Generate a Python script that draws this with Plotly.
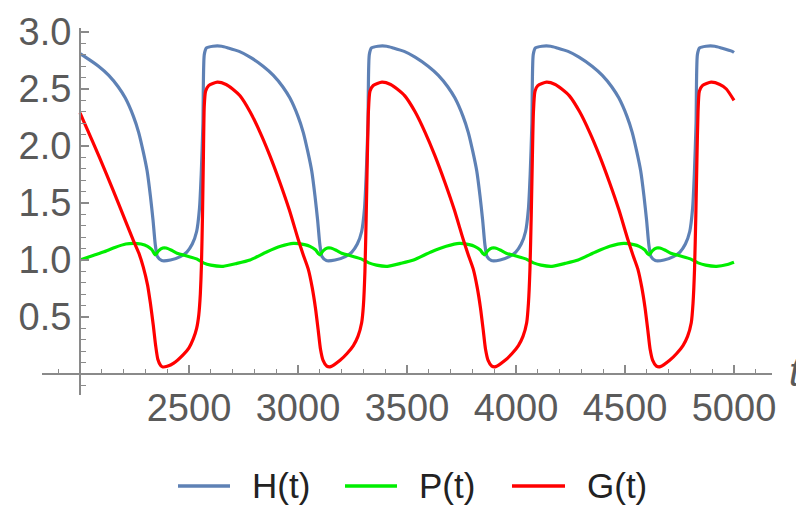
import plotly.graph_objects as go

# ---- data ----
H_t = [2000, 2025, 2085, 2132, 2175, 2208, 2245, 2269, 2290, 2308, 2323, 2335, 2345, 2355, 2375, 2415,
       2460, 2490, 2515, 2535, 2548, 2556, 2564, 2570, 2580, 2610, 2650, 2680, 2730, 2780, 2840, 2887,
       2930, 2963, 3000, 3024, 3045, 3063, 3078, 3090, 3100, 3110, 3130, 3170,
       3217, 3247, 3272, 3292, 3305, 3313, 3321, 3327, 3337, 3367, 3407, 3437, 3487, 3537, 3597, 3644,
       3687, 3720, 3757, 3781, 3802, 3820, 3835, 3847, 3857, 3867, 3887, 3927,
       3969, 3999, 4024, 4044, 4057, 4065, 4073, 4079, 4089, 4119, 4159, 4189, 4239, 4289, 4349, 4396,
       4439, 4472, 4509, 4533, 4554, 4572, 4587, 4599, 4609, 4619, 4639, 4679,
       4722, 4752, 4777, 4797, 4810, 4818, 4826, 4832, 4842, 4872, 4912, 4942, 4992, 5000]
H_y = [2.81, 2.78, 2.70, 2.62, 2.52, 2.42, 2.26, 2.12, 1.95, 1.78, 1.56, 1.35, 1.14, 1.03, 0.995, 1.00,
       1.03, 1.07, 1.14, 1.25, 1.45, 1.75, 2.2, 2.80, 2.86, 2.875, 2.875, 2.86, 2.83, 2.78, 2.70, 2.62,
       2.52, 2.42, 2.26, 2.12, 1.95, 1.78, 1.56, 1.35, 1.14, 1.03, 0.995, 1.00,
       1.03, 1.07, 1.14, 1.25, 1.45, 1.75, 2.2, 2.80, 2.86, 2.875, 2.875, 2.86, 2.83, 2.78, 2.70, 2.62,
       2.52, 2.42, 2.26, 2.12, 1.95, 1.78, 1.56, 1.35, 1.14, 1.03, 0.995, 1.00,
       1.03, 1.07, 1.14, 1.25, 1.45, 1.75, 2.2, 2.80, 2.86, 2.875, 2.875, 2.86, 2.83, 2.78, 2.70, 2.62,
       2.52, 2.42, 2.26, 2.12, 1.95, 1.78, 1.56, 1.35, 1.14, 1.03, 0.995, 1.00,
       1.03, 1.07, 1.14, 1.25, 1.45, 1.75, 2.2, 2.80, 2.86, 2.875, 2.875, 2.86, 2.83, 2.82]

P_t = [2000, 2060, 2107, 2160, 2210, 2245, 2280, 2310, 2330, 2345, 2360, 2380, 2395, 2420, 2445, 2490,
       2535, 2566, 2600, 2657, 2720, 2780, 2856, 2920, 2979, 3030, 3055, 3080, 3100, 3115, 3135, 3150,
       3175, 3200, 3245, 3290, 3325, 3360, 3410, 3470, 3530, 3610, 3680, 3740, 3785, 3810, 3835, 3855,
       3870, 3890, 3905, 3930, 3955, 4000, 4045, 4080, 4115, 4165, 4225, 4285, 4365, 4430, 4495, 4540,
       4565, 4590, 4610, 4625, 4645, 4660, 4685, 4710, 4755, 4800, 4835, 4870, 4920, 4970, 5000]
P_y = [1.00, 1.04, 1.07, 1.11, 1.14, 1.146, 1.14, 1.12, 1.09, 1.045, 1.08, 1.105, 1.105, 1.085, 1.06, 1.035,
       1.01, 0.975, 0.955, 0.945, 0.97, 1.00, 1.07, 1.12, 1.146, 1.135, 1.12, 1.09, 1.045, 1.08, 1.105, 1.105,
       1.085, 1.06, 1.035, 1.01, 0.975, 0.955, 0.945, 0.97, 1.00, 1.07, 1.12, 1.146, 1.135, 1.12, 1.09, 1.045,
       1.08, 1.105, 1.105, 1.085, 1.06, 1.035, 1.01, 0.975, 0.955, 0.945, 0.97, 1.00, 1.07, 1.12, 1.146, 1.135,
       1.12, 1.09, 1.045, 1.08, 1.105, 1.105, 1.085, 1.06, 1.035, 1.01, 0.975, 0.955, 0.945, 0.96, 0.98]

G_t = [2000, 2060, 2120, 2180, 2245, 2270, 2290, 2310, 2323, 2336, 2347, 2357, 2370, 2380, 2400, 2430,
       2474, 2500, 2520, 2535, 2545, 2552, 2557, 2562, 2566, 2570, 2576, 2590, 2630, 2670, 2700,
       2734, 2780, 2826, 2870, 2917, 2960, 3001, 3025, 3047, 3065, 3080, 3093, 3103, 3115, 3132, 3150,
       3193, 3225, 3254, 3275, 3292, 3300, 3307, 3313, 3318, 3323, 3330, 3345, 3385, 3425, 3455,
       3490, 3537, 3583, 3627, 3674, 3717, 3758, 3782, 3804, 3822, 3837, 3850, 3860, 3872, 3889, 3907,
       3950, 3982, 4011, 4032, 4049, 4057, 4064, 4070, 4075, 4080, 4087, 4100, 4140, 4180, 4210,
       4245, 4292, 4338, 4382, 4429, 4472, 4513, 4537, 4559, 4577, 4592, 4605, 4615, 4627, 4644, 4662,
       4705, 4737, 4766, 4787, 4804, 4812, 4819, 4825, 4830, 4835, 4841, 4855, 4895, 4935, 4965, 5000]
G_y = [2.29, 2.03, 1.76, 1.48, 1.17, 1.06, 0.94, 0.78, 0.62, 0.43, 0.25, 0.13, 0.075, 0.062, 0.068, 0.095,
       0.17, 0.23, 0.31, 0.40, 0.52, 0.70, 0.95, 1.40, 1.90, 2.35, 2.48, 2.53, 2.56, 2.54, 2.50,
       2.44, 2.30, 2.12, 1.92, 1.68, 1.44, 1.18, 1.04, 0.92, 0.76, 0.58, 0.38, 0.22, 0.12, 0.07, 0.065,
       0.12, 0.18, 0.25, 0.33, 0.45, 0.60, 0.90, 1.40, 1.89, 2.30, 2.48, 2.53, 2.56, 2.54, 2.50,
       2.44, 2.30, 2.12, 1.92, 1.68, 1.44, 1.18, 1.04, 0.92, 0.76, 0.58, 0.38, 0.22, 0.12, 0.07, 0.065,
       0.12, 0.18, 0.25, 0.33, 0.45, 0.62, 0.92, 1.40, 1.89, 2.30, 2.48, 2.53, 2.56, 2.54, 2.50,
       2.44, 2.30, 2.12, 1.92, 1.68, 1.44, 1.18, 1.04, 0.92, 0.76, 0.58, 0.38, 0.22, 0.12, 0.07, 0.065,
       0.12, 0.18, 0.25, 0.33, 0.45, 0.62, 0.92, 1.40, 1.89, 2.30, 2.48, 2.53, 2.56, 2.54, 2.50, 2.40]

x_ticks = [2500, 3000, 3500, 4000, 4500, 5000]
x_tick_labels = ["2500", "3000", "3500", "4000", "4500", "5000"]
y_ticks = [0.5, 1.0, 1.5, 2.0, 2.5, 3.0]
y_tick_labels = ["0.5", "1.0", "1.5", "2.0", "2.5", "3.0"]
series_names = ["H(t)", "P(t)", "G(t)"]
series_colors = ["#5E81B5", "#00EE00", "#FF0000"]

# ---- layout geometry ----
# the page body has an 8px margin, so the figure is 8px smaller and everything
# is expressed in screenshot pixels (ref px) through fx/fy.
OFF = 8
W, Hh = 804 - OFF, 509 - OFF
PLOT_L, PLOT_R, PLOT_T, PLOT_B = 42, 772, 28, 395          # screenshot pixels
ML, MR, MT, MB = PLOT_L - OFF, W - (PLOT_R - OFF), PLOT_T - OFF, Hh - (PLOT_B - OFF)
PW, PH = PLOT_R - PLOT_L, PLOT_B - PLOT_T

def fx(px):
    return (px - PLOT_L) / PW

def fy(py):
    return (PLOT_B - py) / PH

AXIS_GRAY = "#8a8a8a"
LABEL_GRAY = "#5a5a5a"
FONT = "Liberation Sans, Arial, sans-serif"

fig = go.Figure()
for t, y, name, col in zip([H_t, P_t, G_t], [H_y, P_y, G_y], series_names, series_colors):
    fig.add_trace(go.Scatter(x=t, y=y, mode="lines", name=name,
                             line=dict(color=col, width=3.2, shape="spline", smoothing=0.6),
                             showlegend=False, hoverinfo="skip"))

fig.update_layout(
    width=W, height=Hh,
    margin=dict(l=ML, r=MR, t=MT, b=MB, pad=0, autoexpand=False),
    paper_bgcolor="white", plot_bgcolor="white",
    font=dict(family=FONT, color=LABEL_GRAY),
    xaxis=dict(range=[1825.7, 5174.3], anchor="free", position=fy(374), automargin=False,
               showgrid=False, zeroline=False, showline=True, linecolor=AXIS_GRAY, linewidth=2,
               tickmode="array", tickvals=x_ticks, ticktext=x_tick_labels,
               ticks="inside", ticklen=8, tickwidth=1.5, tickcolor=AXIS_GRAY,
               ticklabelstandoff=0,
               tickfont=dict(size=38, color=LABEL_GRAY, family=FONT),
               minor=dict(dtick=100, tick0=0, ticks="inside", ticklen=4.5, tickwidth=1.2,
                          tickcolor=AXIS_GRAY, showgrid=False)),
    yaxis=dict(range=[-0.184, 3.035], anchor="free", position=fx(80), automargin=False,
               showgrid=False, zeroline=False, showline=True, linecolor=AXIS_GRAY, linewidth=2,
               tickmode="array", tickvals=y_ticks, ticktext=y_tick_labels,
               ticks="inside", ticklen=8, tickwidth=1.5, tickcolor=AXIS_GRAY,
               ticklabelstandoff=0,
               tickfont=dict(size=38, color=LABEL_GRAY, family=FONT),
               minor=dict(dtick=0.1, tick0=0, ticks="inside", ticklen=4.5, tickwidth=1.2,
                          tickcolor=AXIS_GRAY, showgrid=False)),
)

# axis label "t"
fig.add_annotation(x=fx(795), y=fy(372), xref="paper", yref="paper", text="<i>t</i>",
                   showarrow=False, xanchor="center", yanchor="middle",
                   font=dict(size=40, color=LABEL_GRAY, family=FONT))

# manual legend
leg_lines = [(178, 230), (345, 397), (512, 565)]
leg_text_x = [250, 417, 585]
leg_y = 486
for (a, b), tx, name, col in zip(leg_lines, leg_text_x, series_names, series_colors):
    fig.add_shape(type="line", xref="paper", yref="paper", x0=fx(a), x1=fx(b), y0=fy(leg_y), y1=fy(leg_y),
                  line=dict(color=col, width=3.5))
    fig.add_annotation(x=fx(tx), y=fy(485), xref="paper", yref="paper", text=name, showarrow=False,
                       xanchor="left", yanchor="middle",
                       font=dict(size=35, color="#222222", family=FONT))

fig.write_html("out.html")
